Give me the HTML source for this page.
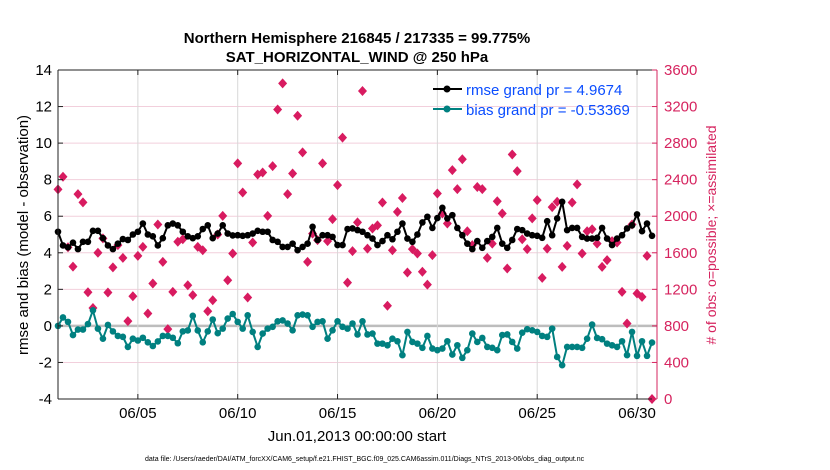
<!DOCTYPE html>
<html><head><meta charset="utf-8"><style>
body{margin:0;background:#fff;}
svg{display:block;font-family:"Liberation Sans",Arial,sans-serif;}
</style></head><body>
<svg id="chart" width="830" height="470" viewBox="0 0 830 470" xmlns="http://www.w3.org/2000/svg">
<g id="grid"></g><g id="series"></g><g id="axes"></g>
<text x="357" y="43" text-anchor="middle" font-size="15" font-weight="bold">Northern Hemisphere 216845 / 217335 = 99.775%</text>
<text x="357" y="62" text-anchor="middle" font-size="15" font-weight="bold">SAT_HORIZONTAL_WIND @ 250 hPa</text>
<text transform="translate(28,235) rotate(-90)" text-anchor="middle" font-size="15">rmse and bias (model - observation)</text>
<text transform="translate(716,235) rotate(-90)" text-anchor="middle" font-size="14" fill="#d6245f"># of obs: o=possible; ×=assimilated</text>
<text x="357" y="441" text-anchor="middle" font-size="15">Jun.01,2013 00:00:00 start</text>
<text x="145" y="461" font-size="7">data file: /Users/raeder/DAI/ATM_forcXX/CAM6_setup/f.e21.FHIST_BGC.f09_025.CAM6assim.011/Diags_NTrS_2013-06/obs_diag_output.nc</text>
<g>
<line x1="433" y1="89" x2="462" y2="89" stroke="#000" stroke-width="2"/><circle cx="447" cy="89" r="3.5" fill="#000"/>
<text x="466" y="95" font-size="15" fill="#0a4dff">rmse grand pr = 4.9674</text>
<line x1="433" y1="109" x2="462" y2="109" stroke="#008080" stroke-width="2"/><circle cx="447" cy="109" r="3.5" fill="#008080"/>
<text x="466" y="115" font-size="15" fill="#0a4dff">bias grand pr = -0.53369</text>
</g>
</svg>
<script>
const rmse=[5.15,4.4,4.3,4.55,4.2,4.6,4.6,5.2,
5.2,4.8,4.4,4.2,4.5,4.75,4.7,5.0,5.15,5.6,5.0,4.9,4.4,4.8,5.5,5.6,5.5,5.15,4.9,4.8,4.9,5.3,5.5,4.8,5.05,5.5,5.05,4.95,
4.96,4.93,4.96,5.05,5.2,5.15,5.15,4.7,4.6,4.32,4.32,4.5,4.14,4.32,4.5,5.42,4.7,4.96,4.96,4.87,4.42,4.42,5.3,5.33,5.24,5.15,4.96,4.78,4.42,
4.64,4.96,4.74,5.15,5.6,4.78,4.6,5.0,5.66,5.97,5.36,5.9,6.46,5.88,6.06,5.36,4.96,4.5,4.2,4.64,4.27,4.64,4.87,5.36,4.5,4.27,4.7,5.3,
5.24,5.05,4.96,4.93,4.82,5.73,4.96,5.88,6.79,5.24,5.36,5.36,4.87,4.78,4.78,4.82,5.36,4.78,4.42,4.78,4.96,5.33,5.5,6.1,5.18,5.6,4.93];
const bias=[0,0.46,0.22,-0.5,-0.2,-0.2,0.1,0.85,
-0.15,-0.7,0.05,-0.3,-0.55,-0.6,-1.15,-0.7,-0.8,-0.65,-0.9,-1.1,-0.85,-0.55,-0.55,-0.65,-0.95,-0.3,-0.25,0.55,-0.25,-0.9,-0.3,0.35,-0.4,-0.15,0.4,0.65,
0.22,-0.15,0.58,-0.33,-1.15,-0.42,-0.15,-0.05,0.25,0.3,0.13,-0.24,0.58,0.62,0.58,-0.05,0.22,0.25,-0.7,-0.24,0.25,-0.05,-0.15,0.13,-0.47,0.25,-0.47,-0.42,-0.97,
-0.97,-1.06,-0.7,-0.84,-1.6,-0.33,-0.88,-0.97,-1.2,-0.55,-1.24,-1.33,-1.24,-0.84,-1.57,-1.06,-1.75,-1.33,-0.42,-0.88,-0.66,-1.15,-1.2,-1.33,-0.5,-0.47,-0.88,
-1.24,-0.37,-0.18,-0.24,-0.33,-0.55,-0.6,-0.15,-1.7,-2.15,-1.15,-1.15,-1.15,-1.2,-0.7,0.07,-0.66,-0.73,-0.97,-1.06,-1.15,-0.84,-1.6,-0.33,-1.64,-0.84,-1.64,-0.91];
const obs=[2294,2432,1660,1448,2242,2152,1168,996,1600,1758,1165,1440,1684,1544,852,1124,1566,1664,935,1264,1910,1500,764,1172,1720,1748,1245,1136,1664,1628,960,1080,1800,2004,1300,1592,
2578,2260,1110,1712,2457,2478,2004,2548,3168,3454,2242,2468,3100,2698,1500,1810,1738,2578,1728,1968,2340,2860,1274,1618,1932,3370,1646,1866,1900,
2150,1020,1628,2048,2200,1384,1640,1592,1392,1252,1574,2248,2030,1920,2504,2296,2624,1836,1684,2320,2296,1544,1700,2164,2030,1428,2676,
2494,1748,1640,1976,2176,1326,1646,2100,2158,1446,1676,2150,2348,1592,1836,1858,1700,1446,1520,1728,1712,1172,826,1910,1154,1118,1566,0];
const leftTicks=[-4,-2,0,2,4,6,8,10,12,14];
const rightTicks=[0,400,800,1200,1600,2000,2400,2800,3200,3600];
const xTickDays=[5,10,15,20,25,30];
const xTickLabels=["06/05","06/10","06/15","06/20","06/25","06/30"];
const stepDays=0.25;

const L=58,R=657,T=70,B=399;
const xS=d=>L+(d-1)/30*(R-L);
const yS=v=>B-(v+4)/18*(B-T);
const y2S=n=>B-n/3600*(B-T);
const NS="http://www.w3.org/2000/svg";
function mk(tag,attrs,parent){const e=document.createElementNS(NS,tag);for(const k in attrs)e.setAttribute(k,attrs[k]);parent.appendChild(e);return e;}
const grid=document.getElementById('grid'),ser=document.getElementById('series'),ax=document.getElementById('axes');
leftTicks.forEach(v=>{if(v===-4||v===14)return;
 const g=mk('line',{x1:L,x2:R,y1:yS(v),y2:yS(v),stroke:v===0?'#bdbdbd':'#f2cfdc','stroke-width':v===0?2.5:1},grid);
 
 });
xTickDays.forEach((d,i)=>{
 const g=mk('line',{x1:xS(d),x2:xS(d),y1:T,y2:B,stroke:'#d8d8d8','stroke-width':1},grid);
 
 
 const t=mk('text',{x:xS(d),y:418,'text-anchor':'middle','font-size':15},ax);t.textContent=xTickLabels[i];
 
 
 mk('line',{x1:xS(d),x2:xS(d),y1:B,y2:B-5,stroke:'#222'},ax);
 mk('line',{x1:xS(d),x2:xS(d),y1:T,y2:T+5,stroke:'#222'},ax);});
// obs diamonds
obs.forEach((n,i)=>{const x=xS(1+i*stepDays),y=y2S(n);
 const p=mk('path',{d:`M${x} ${y-5}L${x+4.5} ${y}L${x} ${y+5}L${x-4.5} ${y}Z`,fill:'#d81b60'},ser);
 
 });
function line(arr,col,name){
 const pts=arr.map((v,i)=>xS(1+i*stepDays).toFixed(1)+','+yS(v).toFixed(1)).join(' ');
 const pl=mk('polyline',{points:pts,fill:'none',stroke:col,'stroke-width':2},ser);
 
 
 arr.forEach((v,i)=>{const c=mk('circle',{cx:xS(1+i*stepDays),cy:yS(v),r:3.3,fill:col},ser);
  
  });}
line(rmse,'#000','rmse');
line(bias,'#008080','bias');
// axes frame
mk('line',{x1:L,x2:R,y1:T,y2:T,stroke:'#222'},ax);
mk('line',{x1:L,x2:R,y1:B,y2:B,stroke:'#222'},ax);
mk('line',{x1:L,x2:L,y1:T,y2:B,stroke:'#222'},ax);
mk('line',{x1:R,x2:R,y1:T,y2:B,stroke:'#d6245f'},ax);
leftTicks.forEach(v=>{const t=mk('text',{x:L-6,y:yS(v)+5,'text-anchor':'end','font-size':15},ax);t.textContent=v;
 
 
 mk('line',{x1:L,x2:L+5,y1:yS(v),y2:yS(v),stroke:'#222'},ax);});
rightTicks.forEach(n=>{const t=mk('text',{x:R+7,y:y2S(n)+5,'font-size':15,fill:'#d6245f'},ax);t.textContent=n;
 
 
 mk('line',{x1:R-5,x2:R,y1:y2S(n),y2:y2S(n),stroke:'#d6245f'},ax);});
</script>
</body></html>
